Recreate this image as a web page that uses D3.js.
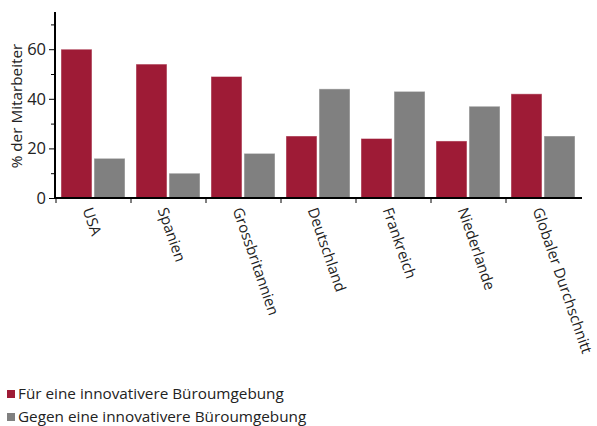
<!DOCTYPE html>
<html><head><meta charset="utf-8">
<script src="https://cdn.jsdelivr.net/npm/d3@7"></script>
<style>
body{margin:0;background:#fff;}
svg text{font-family:"Open Sans",sans-serif;fill:#222;}
</style></head>
<body><svg id="c" width="597" height="426"></svg>
<script>
const categories = ["USA","Spanien","Grossbritannien","Deutschland","Frankreich","Niederlande","Globaler Durchschnitt"];
const forValues = [60,54,49,25,24,23,42];
const againstValues = [16,10,18,44,43,37,25];
const seriesNames = ["Für eine innovativere Büroumgebung","Gegen eine innovativere Büroumgebung"];
const seriesColors = ["#9e1b36","#808080"];
const yMajorTicks = [0,20,40,60];
const yMinorTicks = [10,30,50,70];
const yTitle = "% der Mitarbeiter";

(function(){
const svg = d3.select("#c");
const mLeft = 55, mRight = 580, mTop = 12, mBottom = 198;
const x = d3.scaleBand().domain(categories).range([mLeft,mRight]).paddingInner(0).paddingOuter(0);
const inner = d3.scaleBand().domain([0,1]).range([6, x.bandwidth()-5]).paddingInner(4/64);
const y = d3.scaleLinear().domain([0,75]).range([mBottom, mTop]);

const series = [forValues, againstValues];
series.forEach((vals,si)=>{
  svg.append("g").selectAll("rect").data(vals).join("rect")
    .attr("x",(d,i)=>x(categories[i])+inner(si))
    .attr("width",inner.bandwidth())
    .attr("y",d=>y(d))
    .attr("height",d=>mBottom-y(d))
    .attr("fill",seriesColors[si])
    .attr("stroke","rgba(255,255,255,0.45)")
    .attr("stroke-width",1);
});

// y axis
const yAxisG = svg.append("g").attr("transform",`translate(${mLeft},0)`);
yAxisG.call(d3.axisLeft(y).tickValues(yMajorTicks).tickSize(6).tickPadding(3).tickFormat(d3.format("d")));
yAxisG.append("g").call(d3.axisLeft(y).tickValues(yMinorTicks).tickSize(4).tickFormat(""));
yAxisG.selectAll(".domain").remove();
yAxisG.append("line").attr("x1",0).attr("x2",0).attr("y1",y.range()[1]).attr("y2",mBottom+1).attr("stroke","#000").attr("stroke-width",2);
yAxisG.selectAll(".tick line").attr("stroke","#000");
yAxisG.selectAll(".tick text").attr("font-size",16.5).style("fill","#222").style("font-family","'Open Sans',sans-serif");

// x axis
const xAxisG = svg.append("g").attr("transform",`translate(0,${mBottom})`);
xAxisG.append("line").attr("x1",mLeft-1).attr("x2",mRight+2).attr("y1",0).attr("y2",0).attr("stroke","#000").attr("stroke-width",2);
const bounds = categories.map(c=>x(c));
xAxisG.selectAll("line.t").data(bounds).join("line").attr("class","t")
  .attr("x1",d=>d+1).attr("x2",d=>d+1).attr("y1",0).attr("y2",5).attr("stroke","#000");
xAxisG.selectAll("text.lbl").data(categories).join("text").attr("class","lbl")
  .attr("transform",d=>`translate(${x(d)+x.bandwidth()/2-5},10) rotate(71)`)
  .attr("dy","0.35em")
  .attr("font-size",15)
  .text(d=>d);

// y title
svg.append("text").attr("transform","translate(22,106) rotate(-90)")
  .attr("text-anchor","middle").attr("font-size",15.3).text(yTitle);

// legend
const lg = svg.append("g");
seriesNames.forEach((n,i)=>{
  const yy = 390 + i*23;
  lg.append("rect").attr("x",7).attr("y",yy).attr("width",8).attr("height",8).attr("fill",seriesColors[i]);
  lg.append("text").attr("x",18).attr("y",yy+9).attr("font-size",15.3).text(n);
});
})();
</script></body></html>
